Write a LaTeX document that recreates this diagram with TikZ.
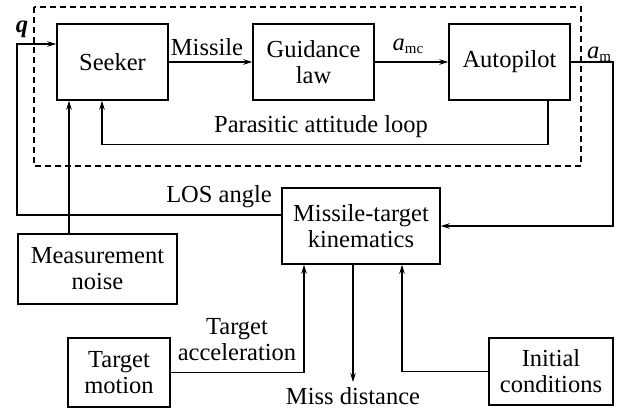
\documentclass[tikz,border=0pt]{standalone}
\usepackage{fontspec}
\setmainfont{Liberation Serif}
\usetikzlibrary{arrows.meta,calc}
\begin{document}
\begin{tikzpicture}[x=1pt,y=-1pt,
  blk/.style={draw,line width=1.5pt,inner sep=0pt,align=center,font=\fontsize{24.5}{26}\selectfont},
  lbl/.style={inner sep=0pt,align=center,font=\fontsize{24.5}{26}\selectfont},
  conn/.style={line width=1.1pt},
  arr/.style={conn,-{Stealth[length=9pt,width=5.5pt]}}]
\useasboundingbox (0,0) rectangle (620,410);
% dashed frame
\draw[dashed,line width=1.2pt,dash pattern=on 6pt off 4pt] (34,7) rectangle (581,166);
% blocks
\node[blk,minimum width=111pt,minimum height=76pt] (sk) at (112.5,62) {Seeker};
\node[blk,minimum width=121pt,minimum height=76pt] (gl) at (313.5,62) {Guidance\\law};
\node[blk,minimum width=121pt,minimum height=76pt] (ap) at (509.5,62) {Autopilot};
\node[blk,minimum width=158pt,minimum height=76pt] (kin) at (361,226) {Missile-target\\kinematics};
\node[blk,minimum width=159pt,minimum height=70pt] (mn) at (97.5,269) {Measurement\\noise};
\node[blk,minimum width=102pt,minimum height=69pt] (tm) at (119,372.5) {Target\\motion};
\node[blk,minimum width=124pt,minimum height=67pt] (ic) at (551,371.5) {Initial\\conditions};
% coordinates
\coordinate (qc) at (17,44);
\coordinate (amc) at (613,62);
\coordinate (miss) at (353,382);
% connectors
\draw[arr] (sk.east) -- (gl.west);
\draw[arr] (gl.east) -- (ap.west);
\draw[arr] (ap.east) -- (amc) |- (kin.east);
\draw[arr] ($(ap.south)+(38.5,0)$) -- ++(0,44) -| ($(sk.south)+(-10.5,0)$);
\draw[arr] ($(kin.west)+(0,-11)$) -| (qc) -- ($(sk.west)+(0,-18)$);
\draw[arr] ($(mn.north)+(-28.5,0)$) -- ($(sk.south)+(-43.5,0)$);
\draw[arr] (tm.east) -| ($(kin.south)+(-57,0)$);
\draw[arr] (ic.west) -| ($(kin.south)+(41,0)$);
\draw[arr] ($(kin.south)+(-8,0)$) -- (miss);
% labels
\node[lbl] (l1) at (207,47) {Missile};
\node[lbl] (l2) at (408,46) {\textit{a}\raisebox{-0.25ex}{\fontsize{15}{15}\selectfont mc}};
\node[lbl] (l3) at (599,54) {\textit{a}\raisebox{-0.25ex}{\fontsize{15}{15}\selectfont m}};
\node[lbl] (l4) at (22,29) {\textbf{\textit{q}}};
\node[lbl] (l5) at (321,127) {Parasitic attitude loop};
\node[lbl] (l6) at (219,197) {LOS angle};
\node[lbl] (l7) at (237,340) {Target\\acceleration};
\node[lbl] (l8) at (353,396) {Miss distance};
\end{tikzpicture}
\end{document}
